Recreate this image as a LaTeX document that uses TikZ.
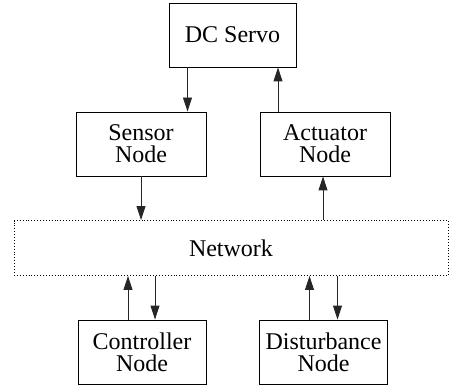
\documentclass[tikz,border=0pt]{standalone}
\usepackage{fontspec}
\setmainfont{Liberation Serif}
\usepackage{tikz}
\usetikzlibrary{arrows.meta}
\tikzset{
  blk/.style={draw=black,line width=0.9pt,inner sep=0pt,align=center,
              font=\fontsize{24}{22}\selectfont},
  net/.style={draw=black,dotted,line width=0.9pt,inner sep=0pt,
              font=\fontsize{24}{22}\selectfont},
  sig/.style={draw=black!85,line width=0.9pt,
              arrows={-Triangle[length=14pt,width=9pt]}}
}

\begin{document}
\begin{tikzpicture}[x=1pt,y=-1pt]
    \useasboundingbox (0,0) rectangle (449,387);

    % plant
    \node[blk,minimum width=127pt,minimum height=64pt] (servo) at (232.5,35) {DC Servo};

    % nodes next to the plant
    \node[blk,minimum width=130pt,minimum height=64pt] (sensor) at (141,144) {Sensor\\Node};
    \node[blk,minimum width=130pt,minimum height=64pt] (actuator) at (325,144) {Actuator\\Node};

    % the network
    \node[net,minimum width=434pt,minimum height=55pt] (network) at (231,248) {Network};

    % nodes below the network
    \node[blk,minimum width=128pt,minimum height=64pt] (controller) at (142,352) {Controller\\Node};
    \node[blk,minimum width=128pt,minimum height=64pt] (disturbance) at (323.5,352) {Disturbance\\Node};

    %connect plant
    \draw[sig] ([xshift=-45pt]servo.south) -- ([xshift=-45pt]servo.south |- sensor.north);
    \draw[sig] ([xshift=-47pt]actuator.north) -- ([xshift=-47pt]actuator.north |- servo.south);

    %connect network
    \draw[sig] (sensor.south) -- (sensor.south |- network.north);
    \draw[sig] ([xshift=-2pt]actuator.south |- network.north) -- ([xshift=-2pt]actuator.south);

    \draw[sig] ([xshift=-14pt]controller.north) -- ([xshift=-14pt]controller.north |- network.south);
    \draw[sig] ([xshift=13pt]controller.north |- network.south) -- ([xshift=13pt]controller.north);
    \draw[sig] ([xshift=-14pt]disturbance.north) -- ([xshift=-14pt]disturbance.north |- network.south);
    \draw[sig] ([xshift=14pt]disturbance.north |- network.south) -- ([xshift=14pt]disturbance.north);
\end{tikzpicture}
\end{document}
